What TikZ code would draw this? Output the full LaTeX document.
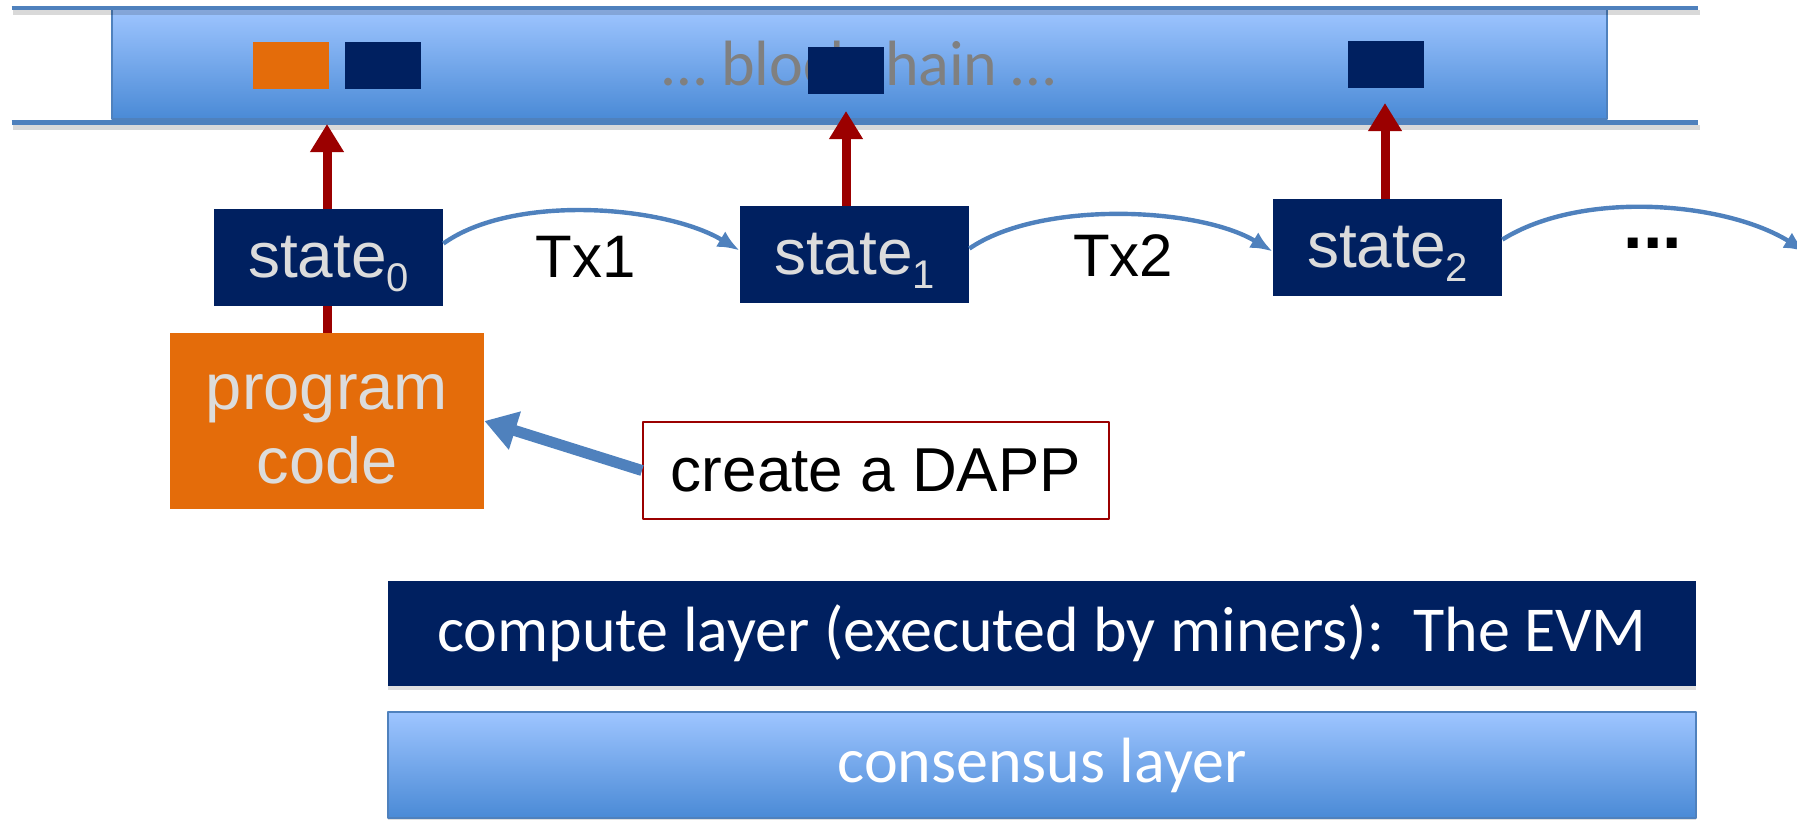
\documentclass[tikz,border=0pt]{standalone}
\usepackage{fontspec}
\setmainfont{Liberation Sans}
\newfontfamily\calibri{Carlito}
\usepackage{tikz}
\usetikzlibrary{arrows.meta,shadows}

\definecolor{navy}{HTML}{002060}
\definecolor{dorange}{HTML}{E46C0A}
\definecolor{dred}{HTML}{9B0000}
\definecolor{lineblue}{HTML}{4F81BD}
\definecolor{gradtop}{HTML}{9EC5FF}
\definecolor{gradbot}{HTML}{4A8AD6}
\definecolor{txtgray}{HTML}{DCDCDC}
\definecolor{chaintxt}{HTML}{808080}

\newcommand{\fsz}[2]{\fontsize{#1}{#2}\selectfont}
\newcommand{\statesub}[1]{\raisebox{-0.21em}[0pt][0pt]{\fsz{20}{20}#1}}

\begin{document}
\begin{tikzpicture}[x=0.5pt,y=-0.5pt,line join=bevel,
  band/.style={draw=lineblue,line width=0.6pt,top color=gradtop,bottom color=gradbot,inner sep=0pt,
    drop shadow={opacity=0.25,shadow xshift=0pt,shadow yshift=-1.5pt}},
  rail/.style={draw=lineblue,line width=2.4pt},
  railshade/.style={draw=black,opacity=0.15,line width=2.5pt},
  blk/.style={minimum width=38pt,minimum height=23.5pt,inner sep=0pt},
  state/.style={fill=navy,text=txtgray,minimum width=114.5pt,minimum height=48.5pt,inner sep=0pt,font=\fsz{32}{38}},
  redarrow/.style={draw=dred,line width=4.5pt,-{Triangle[width=16pt,length=14pt]}},
  tx/.style={draw=lineblue,line width=2.2pt,-{Latex[length=11pt,width=9pt]}},
  fatarrow/.style={draw=lineblue,line width=5.5pt,-{Triangle[width=19pt,length=16pt]}},
  txlabel/.style={font=\fsz{30}{36},inner sep=0pt}]
  \useasboundingbox (0,0) rectangle (1797,819);
%%
  % Node: chain
  \node[band,minimum width=747.5pt,minimum height=55pt,text=chaintxt,font=\calibri\fsz{32}{38}] (chain) at (859.5,64) {… blockchain …};
  \node[blk,fill=dorange] (code0) at (290.5,65.5) {};
  \node[blk,fill=navy] (blk0) at (383,65.5) {};
  \node[blk,fill=navy] (blk1) at (846,70.5) {};
  \node[blk,fill=navy] (blk2) at (1386,64.5) {};
  % rails
  \draw[railshade] (13,12) -- (1700,12);
  \draw[railshade] (13,127) -- (1700,127);
  \draw[rail] (11.5,8) -- (1698,8);
  \draw[rail] (11.5,122.5) -- (1698,122.5);
  \coordinate (t0) at (327,124);
  \coordinate (t1) at (846,111);
  \coordinate (t2) at (1385,103);
  \coordinate (offpage) at (1806,252);
  % Node: prog
  \node[fill=dorange,text=txtgray,minimum width=157pt,minimum height=88pt,inner sep=0pt,font=\fsz{32.5}{37}] (prog) at (327,421)
    {\raisebox{-5.5pt}[\height][\depth]{\begin{tabular}{@{}c@{}}program\\code\end{tabular}}};
  % Edge: prog -> chain
  \draw[redarrow] (prog) -- (t0);
  % Edge: s1 -> chain
  \draw[redarrow] (t1 |- 0,254.5) -- (t1);
  % Edge: s2 -> chain
  \draw[redarrow] (t2 |- 0,247.5) -- (t2);
  % Node: s0
  \node[state] (s0) at (328.5,257.5) {state\statesub{0}};
  % Node: s1
  \node[state] (s1) at (854.5,254.5) {state\statesub{1}};
  % Node: s2
  \node[state] (s2) at (1387.5,247.5) {state\statesub{2}};
  % Edge: s0 -> s1
  \draw[tx] ([yshift=7pt]s0.east) .. controls +(70,-50) and +(-75,-45) .. ([yshift=2pt]s1.west);
  \node[txlabel] (tx1) at (586,257) {Tx1};
  % Edge: s1 -> s2
  \draw[tx] ([yshift=3pt]s1.east) .. controls +(70,-48) and +(-75,-45) .. ([yshift=-2pt]s2.west);
  \node[txlabel] (tx2) at (1123,256) {Tx2};
  % Edge: s2 -> offpage
  \draw[tx] ([yshift=4pt]s2.east) .. controls +(80,-50) and +(-80,-50) .. (offpage);
  \node[font=\bfseries\fsz{35}{40},inner sep=0pt] (more) at (1653,243.5) {...};
  % Node: dapp
  \node[draw=dred,line width=1pt,fill=white,minimum width=233pt,minimum height=48.5pt,font=\fsz{31}{37}] (dapp) at (876,470.5) {create a DAPP};
  % Edge: dapp -> prog
  \draw[fatarrow] (dapp.west) -- (prog.east);
  % Node: evm
  \node[fill=navy,text=white,minimum width=654pt,minimum height=52.5pt,inner sep=0pt,font=\calibri\fsz{32}{38},
    drop shadow={opacity=0.25,shadow xshift=0pt,shadow yshift=-2pt}] (evm) at (1042,633.5) {compute layer (executed by miners):\ \ The EVM};
  % Node: cons
  \node[band,minimum width=654pt,minimum height=53pt,text=white,font=\calibri\fsz{32}{38}] (cons) at (1042,765) {consensus layer};
%
\end{tikzpicture}
\end{document}
